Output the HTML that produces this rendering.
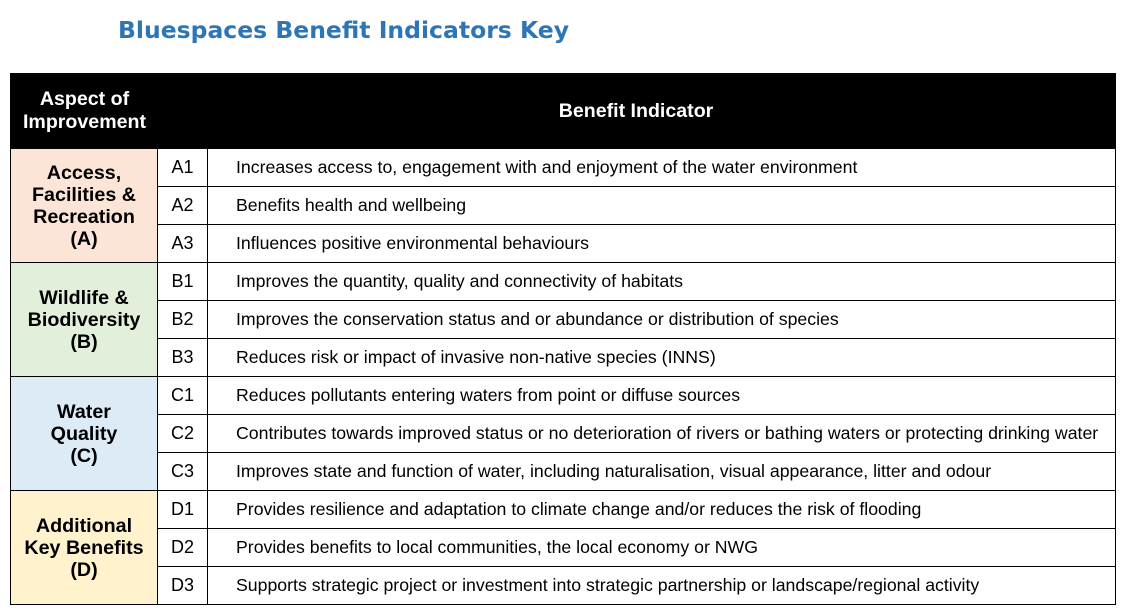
<!DOCTYPE html>
<html><head><meta charset="utf-8">
<style>
html,body{margin:0;padding:0;background:#fff;}
body{width:1126px;height:612px;position:relative;overflow:hidden;font-family:"Liberation Sans",Arial,sans-serif;}
.title{position:absolute;left:118px;top:16px;font-family:"DejaVu Sans","Liberation Sans",sans-serif;font-size:23.5px;font-weight:bold;color:#2E75B6;white-space:nowrap;}
.c{position:absolute;box-sizing:border-box;border:1px solid #000;}
.hd{background:#000;color:#fff;font-weight:bold;font-size:19.6px;display:flex;align-items:center;justify-content:center;text-align:center;line-height:23px;}
.grp{font-weight:bold;font-size:19.7px;display:flex;align-items:center;justify-content:center;text-align:center;line-height:22px;color:#000;}
.code{font-size:18px;display:flex;align-items:center;justify-content:center;color:#000;}
.desc{font-size:17.7px;display:flex;align-items:center;padding-left:28px;color:#000;white-space:nowrap;}
</style></head><body>
<div class="title">Bluespaces Benefit Indicators Key</div>
<div class="c hd" style="left:10px;top:73px;width:148px;height:76px;border-right:none;">Aspect of<br>Improvement</div>
<div class="c hd" style="left:157px;top:73px;width:959px;height:76px;border-left:none;">Benefit Indicator</div>
<div id="rows"></div>
<script>
const groups=[
 {name:"Access,<br>Facilities &amp;<br>Recreation<br>(A)",color:"#FCE4D6",key:"a"},
 {name:"Wildlife &amp;<br>Biodiversity<br>(B)",color:"#E2EFDA",key:"b"},
 {name:"Water<br>Quality<br>(C)",color:"#DDEBF7",key:"c"},
 {name:"Additional<br>Key Benefits<br>(D)",color:"#FFF2CC",key:"d"}];
const codes=[["A1","A2","A3"],["B1","B2","B3"],["C1","C2","C3"],["D1","D2","D3"]];
const descs=[
 ["Increases access to, engagement with and enjoyment of the water environment","Benefits health and wellbeing","Influences positive environmental behaviours"],
 ["Improves the quantity, quality and connectivity of habitats","Improves the conservation status and or abundance or distribution of species","Reduces risk or impact of invasive non-native species (INNS)"],
 ["Reduces pollutants entering waters from point or diffuse sources","Contributes towards improved status or no deterioration of rivers or bathing waters or protecting drinking water","Improves state and function of water, including naturalisation, visual appearance, litter and odour"],
 ["Provides resilience and adaptation to climate change and/or reduces the risk of flooding","Provides benefits to local communities, the local economy or NWG","Supports strategic project or investment into strategic partnership or landscape/regional activity"]];
const root=document.getElementById('rows');
const top0=148,rh=38;
groups.forEach((g,gi)=>{
 const gt=top0+gi*3*rh;
 const gc=document.createElement('div');
 gc.className='c grp';
 
 
 gc.style.cssText=`left:10px;top:${gt}px;width:148px;height:${3*rh+1}px;background:${g.color};`;
 gc.innerHTML=g.name;root.appendChild(gc);
 codes[gi].forEach((cd,ri)=>{
  const t=gt+ri*rh;
  const cc=document.createElement('div');
  cc.className='c code';
  
  
  cc.style.cssText=`left:157px;top:${t}px;width:51px;height:${rh+1}px;`;
  cc.textContent=cd;root.appendChild(cc);
  const dc=document.createElement('div');
  dc.className='c desc';
  
  
  dc.style.cssText=`left:207px;top:${t}px;width:909px;height:${rh+1}px;`;
  dc.textContent=descs[gi][ri];root.appendChild(dc);
 });
});
</script>
</body></html>
